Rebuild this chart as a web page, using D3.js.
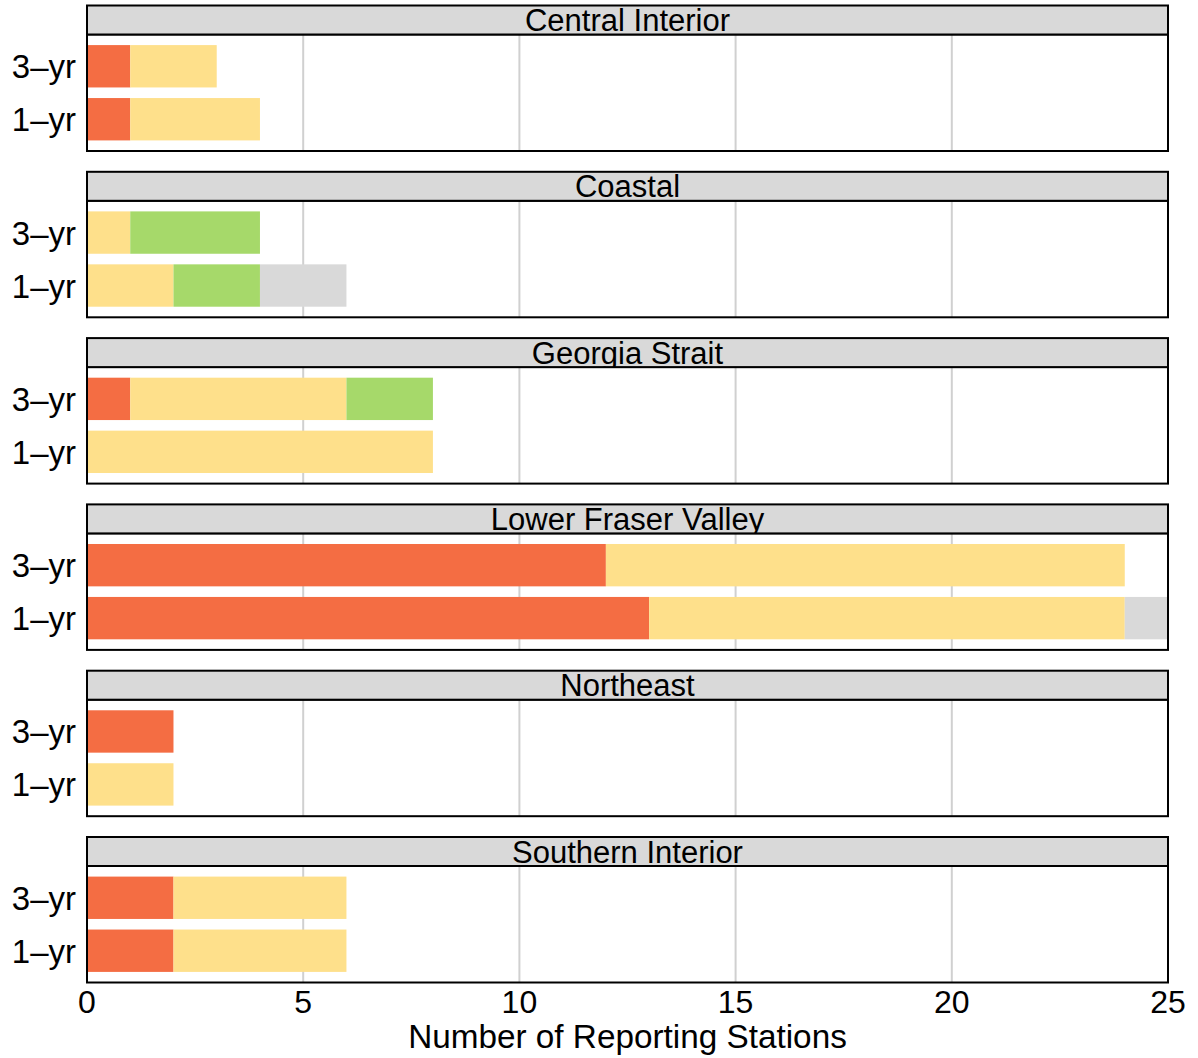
<!DOCTYPE html>
<html lang="en">
<head>
	<meta charset="utf-8">
	<title>Reporting Stations by Air Zone</title>
	<script type="text/javascript" src="https://cdn.jsdelivr.net/npm/d3@7"></script>
<style>
	body {
		margin: 0;
		background: white;
		font-family: "Liberation Sans", Arial, sans-serif;
	}
</style>
</head>
<body>
<div id="chart"></div>
<script type="text/javascript">

// regions (facets), periods (rows within a facet)
var regions = ["Central Interior", "Coastal", "Georgia Strait", "Lower Fraser Valley", "Northeast", "Southern Interior"]
var periods = ["3–yr", "1–yr"]
var xTicks = [0, 5, 10, 15, 20, 25]
var levels = ["exceed", "deteriorate", "clean", "insufficient"]
var levelColors = ["#F46D43", "#FEE08B", "#A6D96A", "#D9D9D9"]

// counts per region, [3-yr, 1-yr]
var exceedCounts = [[1, 1], [0, 0], [1, 0], [12, 13], [2, 0], [2, 2]]
var deteriorateCounts = [[2, 3], [1, 2], [5, 8], [12, 11], [0, 2], [4, 4]]
var cleanCounts = [[0, 0], [3, 2], [2, 0], [0, 0], [0, 0], [0, 0]]
var insufficientCounts = [[0, 0], [0, 2], [0, 0], [0, 1], [0, 0], [0, 0]]

var countsByLevel = [exceedCounts, deteriorateCounts, cleanCounts, insufficientCounts]

//flatten into rows for d3.stack
var rows = []
regions.forEach(function(r, ri) {
	periods.forEach(function(p, pi) {
		var row = {region: r, period: p}
		levels.forEach(function(l, li) { row[l] = countsByLevel[li][ri][pi] })
		rows.push(row)
	})
})
var stacked = d3.stack().keys(levels)(rows)

var W = 1198, H = 1058
var left = 87, right = 1168
var firstTop = 5.5, facetStep = 166.3, stripH = 29, panelH = 116.5

var svg = d3.select("#chart").append("svg")
	.attr("width", W).attr("height", H)

var x = d3.scaleLinear().domain([0, 25]).range([left, right])
var color = d3.scaleOrdinal().domain(levels).range(levelColors)

regions.forEach(function(region, ri) {
	var stripTop = firstTop + ri * facetStep
	var panelTop = stripTop + stripH
	var y = d3.scaleBand().domain(periods)
		.range([panelTop, panelTop + panelH])
		.paddingInner(0.2).paddingOuter(0.2)

	var g = svg.append("g").attr("class", "facet")

	// grid
	g.selectAll(".grid").data(xTicks.slice(1, -1)).enter().append("line")
		.attr("x1", function(d) { return x(d) }).attr("x2", function(d) { return x(d) })
		.attr("y1", panelTop).attr("y2", panelTop + panelH)
		.attr("stroke", "#d0d0d0").attr("stroke-width", 2)

	// bars
	stacked.forEach(function(layer) {
		var segs = layer.filter(function(d) { return d.data.region == region && d[1] > d[0] })
		g.selectAll(".bar-" + layer.key).data(segs).enter().append("rect")
			.attr("x", function(d) { return x(d[0]) })
			.attr("width", function(d) { return x(d[1]) - x(d[0]) })
			.attr("y", function(d) { return y(d.data.period) })
			.attr("height", y.bandwidth())
			.attr("fill", color(layer.key))
	})

	// panel border
	g.append("rect")
		.attr("x", left).attr("y", panelTop)
		.attr("width", right - left).attr("height", panelH)
		.attr("fill", "none").attr("stroke", "black").attr("stroke-width", 2)

	// strip
	var clipId = "strip-clip-" + ri
	svg.append("clipPath").attr("id", clipId).append("rect")
		.attr("x", left).attr("y", stripTop).attr("width", right - left).attr("height", stripH)
	g.append("rect")
		.attr("x", left).attr("y", stripTop)
		.attr("width", right - left).attr("height", stripH)
		.attr("fill", "#D9D9D9")
	g.append("text")
		.attr("clip-path", "url(#" + clipId + ")")
		.attr("x", (left + right) / 2).attr("y", stripTop + 25.5)
		.attr("text-anchor", "middle")
		.style("font-size", "31px")
		.text(region)
	g.append("rect")
		.attr("x", left).attr("y", stripTop)
		.attr("width", right - left).attr("height", stripH)
		.attr("fill", "none").attr("stroke", "black").attr("stroke-width", 2)

	// y labels
	g.selectAll(".ylab").data(periods).enter().append("text")
		.attr("x", 76)
		.attr("y", function(d) { return y(d) + y.bandwidth() / 2 + 12 })
		.attr("text-anchor", "end")
		.style("font-size", "33px")
		.text(function(d) { return d })
})

// x axis labels under the last panel
var axisY = firstTop + (regions.length - 1) * facetStep + stripH + panelH
svg.append("g").selectAll("text").data(xTicks).enter().append("text")
	.attr("x", function(d) { return x(d) })
	.attr("y", axisY + 30.5)
	.attr("text-anchor", "middle")
	.style("font-size", "32px")
	.text(function(d) { return d })

svg.append("text")
	.attr("x", (left + right) / 2)
	.attr("y", 1048)
	.attr("text-anchor", "middle")
	.style("font-size", "33.3px")
	.text("Number of Reporting Stations")

</script>
</body>
</html>
